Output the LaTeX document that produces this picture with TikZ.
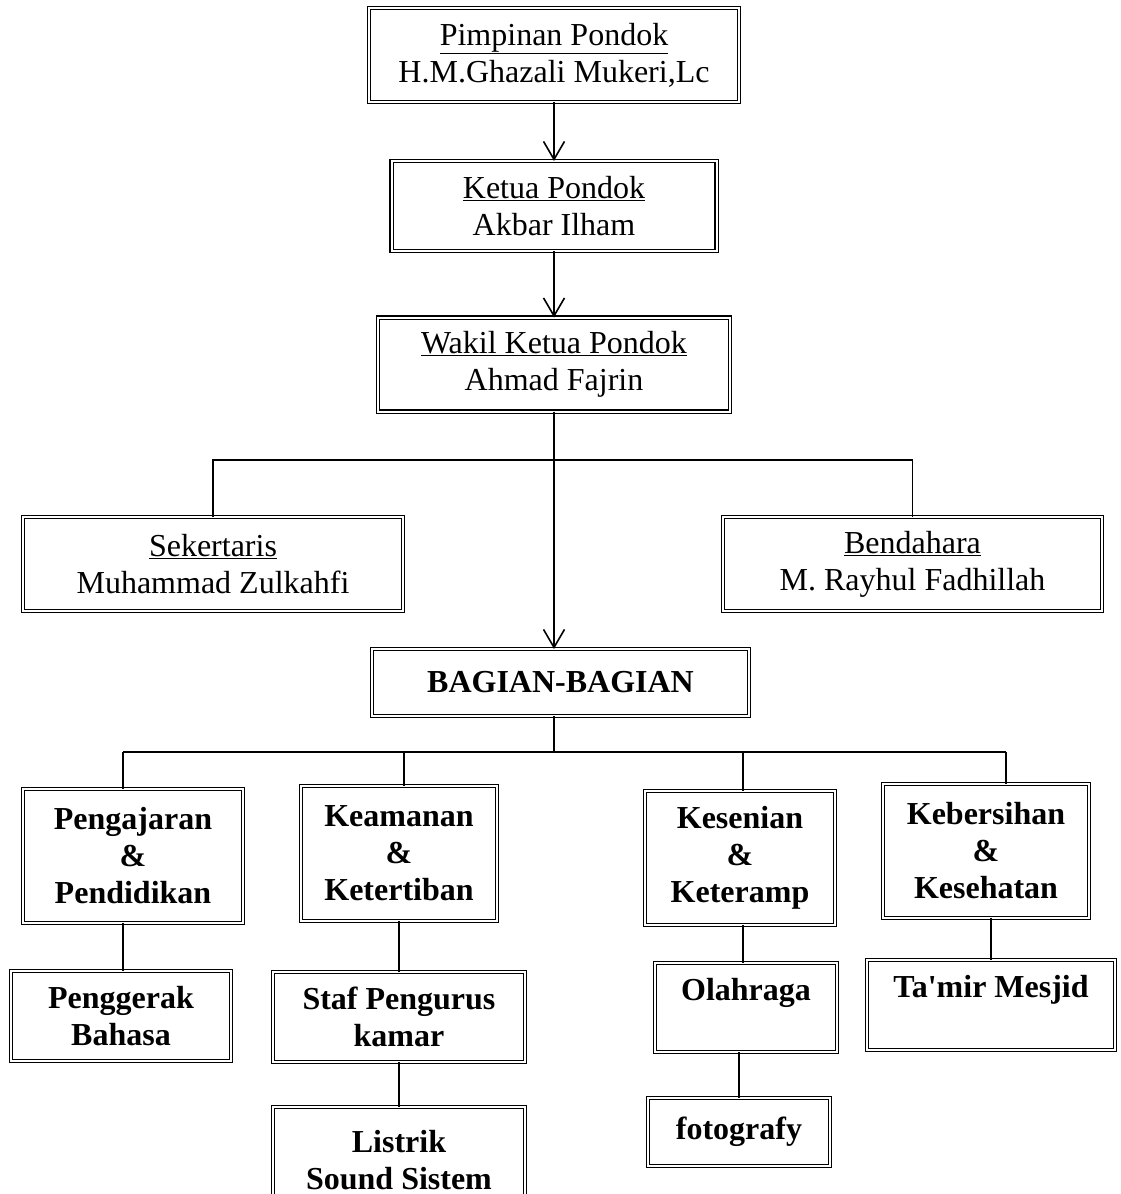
\documentclass[tikz,border=0pt]{standalone}
\usepackage{fontspec}
\setmainfont{Liberation Serif}
\usetikzlibrary{positioning,arrows.meta}

\begin{document}
\begin{tikzpicture}
[every node/.style={font=\fontsize{32}{37}\selectfont,align=center,inner sep=0pt,outer sep=0pt},
 box/.style={draw=black,double,line width=1.2pt,double distance=2pt,rectangle},
 head/.style={box,minimum height=94pt},
 sub/.style={box,font=\fontsize{32}{37}\selectfont\bfseries},
 arr/.style={-{Straight Barb[length=18pt,width=21pt]}},
 line width=1.6pt]
\useasboundingbox (0,0) rectangle (1120pt,-1194pt);
% pimpinan, ketua, wakil
\node[head,minimum width=370pt] (pim) at (554pt,-55pt) {\underline{Pimpinan Pondok}\\H.M.Ghazali Mukeri,Lc};
\node[head,minimum width=325pt,minimum height=90pt] (ket) [on grid,below=151pt of pim] {\underline{Ketua Pondok}\\Akbar Ilham};
\node[head,minimum width=352pt] (wak) [on grid,below=158.5pt of ket] {\underline{Wakil Ketua Pondok}\\Ahmad Fajrin};
\node[head,minimum width=380pt] (sek) [on grid,below  left=199.5pt and 341pt of wak]   {\underline{Sekertaris}\\Muhammad Zulkahfi};
\node[head,minimum width=379pt] (ben) [on grid,below right=199.5pt and 358.5pt of wak] {\underline{Bendahara}\\M. Rayhul Fadhillah};
\node[sub,minimum width=377pt,minimum height=67pt] (bag) [on grid,below right=318pt and 6.5pt of wak] {BAGIAN-BAGIAN};
% bagian-bagian
\node[sub,minimum width=220pt,minimum height=134pt] (pen) [on grid,below  left=173.5pt and 427.5pt of bag] {Pengajaran\\\&\\Pendidikan};
\node[sub,minimum width=196pt,minimum height=135pt] (kea) [on grid,below  left=171pt and 161.5pt of bag]   {Keamanan\\\&\\Ketertiban};
\node[sub,minimum width=190pt,minimum height=134pt] (kes) [on grid,below right=175.5pt and 179.5pt of bag] {Kesenian\\\&\\Keteramp};
\node[sub,minimum width=206pt,minimum height=134pt] (keb) [on grid,below right=168.5pt and 425.5pt of bag] {Kebersihan\\\&\\Kesehatan};
\node[sub,minimum width=220pt,minimum height=90pt]  (gbh) [on grid,below  left=160pt and 12pt of pen]     {Penggerak\\Bahasa};
\node[sub,minimum width=252pt,minimum height=90pt]  (staf) [on grid,below=163.5pt of kea]                 {Staf Pengurus\\kamar};
\node[sub,minimum width=182pt,minimum height=89pt]  (ola) [on grid,below right=149.5pt and 6pt of kes]     {Olahraga\\\mbox{}};
\node[sub,minimum width=248pt,minimum height=90pt]  (tam) [on grid,below right=154pt and 5pt of keb]      {Ta\textquotesingle mir Mesjid\\\mbox{}};
\node[sub,minimum width=252pt,minimum height=106pt] (lis) [on grid,below=143pt of staf]                   {Listrik\\Sound Sistem};
\node[sub,minimum width=182pt,minimum height=68pt]  (fot) [on grid,below  left=124.5pt and 7pt of ola]     {fotografy};
% garis
\coordinate (sp1) at (554pt,-460pt);
\coordinate (b1) at (123pt,-752pt);
\coordinate (b2) at (404pt,-752pt);
\coordinate (b3) at (743pt,-752pt);
\coordinate (b4) at (1006pt,-752pt);
\path[arr] (pim) edge (ket);
\path[arr] (ket) edge (wak);
\draw[arr] (wak.south) -- (wak.south |- bag.north);
\draw (sek.north) |- (sp1) -| (ben.north);
\draw (b1) -- (b4);
\draw (sp1 |- bag.south) -- (sp1 |- b1);
\draw (b1) -- (b1 |- pen.north);
\draw (b2) -- (b2 |- kea.north);
\draw (b3) -- (b3 |- kes.north);
\draw (b4) -- (b4 |- keb.north);
\draw (b1 |- pen.south) -- (b1 |- gbh.north);
\path (kea) edge (staf);
\path (staf) edge (lis);
\draw (b3 |- kes.south) -- (b3 |- ola.north);
\draw (fot.north |- ola.south) -- (fot.north);
\draw (tam.north |- keb.south) -- (tam.north);
\end{tikzpicture}
\end{document}
